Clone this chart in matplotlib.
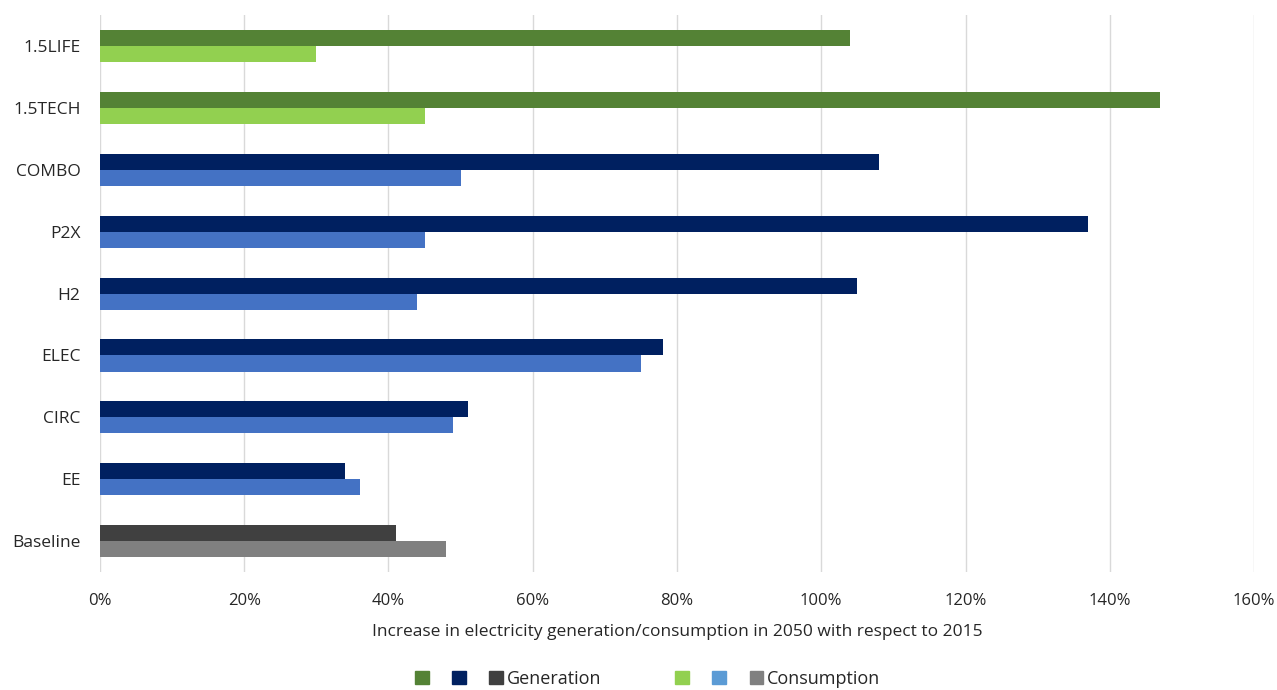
import matplotlib
matplotlib.use("Agg")
import matplotlib.pyplot as plt
from matplotlib.patches import Patch
import numpy as np

plt.rcParams['font.family'] = ['Open Sans', 'DejaVu Sans']

# Scenarios, listed from top to bottom
scenarios = ["1.5LIFE", "1.5TECH", "COMBO", "P2X", "H2", "ELEC", "CIRC", "EE", "Baseline"]
# Increase in 2050 vs 2015 (%)
generation = [104, 147, 108, 137, 105, 78, 51, 34, 41]
consumption = [30, 45, 50, 45, 44, 75, 49, 36, 48]
# Scenario group of each row: 1.5 °C, core, baseline
group = ["15", "15", "core", "core", "core", "core", "core", "core", "base"]

gen_colors = {"15": "#548235", "core": "#002060", "base": "#404040"}
con_colors = {"15": "#92D050", "core": "#4472C4", "base": "#808080"}

xticks = [0, 20, 40, 60, 80, 100, 120, 140, 160]
xticklabels = [f"{v}%" for v in xticks]

fig = plt.figure(figsize=(12.77, 6.90), dpi=100)
ax = fig.add_axes([0.0783, 0.171, 0.9037, 0.807])

y = np.arange(len(scenarios))
h = 0.26
ax.barh(y - h / 2, generation, height=h,
        color=[gen_colors[g] for g in group], zorder=3)
ax.barh(y + h / 2, consumption, height=h,
        color=[con_colors[g] for g in group], zorder=3)

ax.set_ylim(len(scenarios) - 0.5, -0.5)
ax.set_xlim(0, 160)
ax.set_yticks(y)
ax.set_yticklabels(scenarios, fontsize=12.5, color="#262626")
ax.set_xticks(xticks)
ax.set_xticklabels(xticklabels, fontsize=12, color="#262626")
ax.tick_params(axis="both", length=0)
ax.tick_params(axis="y", pad=14)
ax.tick_params(axis="x", pad=15)
ax.grid(axis="x", color="#D9D9D9", linewidth=1, zorder=0)
for s in ax.spines.values():
    s.set_visible(False)
ax.set_xlabel("Increase in electricity generation/consumption in 2050 with respect to 2015",
              fontsize=12.5, color="#262626", labelpad=11)

# Legend: colour swatches for each scenario group
legend_kw = dict(ncol=3, frameon=False, fontsize=13, handlelength=0.75,
                 handleheight=0.75, handletextpad=0.2, columnspacing=1.1,
                 labelcolor="#262626")
gen_handles = [Patch(color=gen_colors[k]) for k in ("15", "core", "base")]
con_handles = [Patch(color=c) for c in ("#92D050", "#5B9BD5", "#808080")]
fig.legend(gen_handles, ["", "", "Generation"], loc="center",
           bbox_to_anchor=(0.398, 0.016), **legend_kw)
fig.legend(con_handles, ["", "", "Consumption"], loc="center",
           bbox_to_anchor=(0.609, 0.016), **legend_kw)

fig.savefig("out.png", dpi=100)
